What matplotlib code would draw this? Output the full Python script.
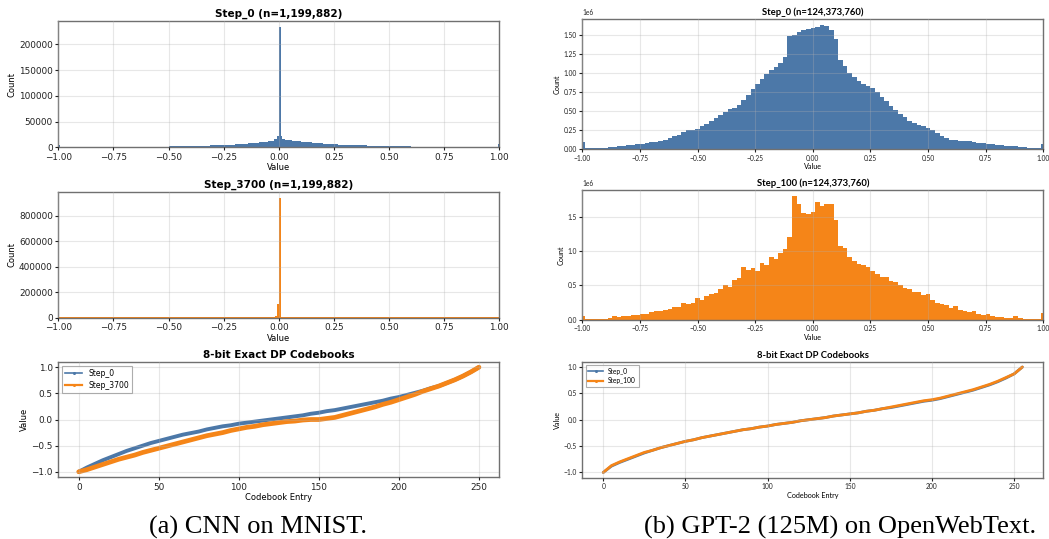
import numpy as np
import matplotlib
matplotlib.use('Agg')
import matplotlib.pyplot as plt
from matplotlib.lines import Line2D
from matplotlib.ticker import MultipleLocator

BLUE = '#4C78A8'
ORANGE = '#F58518'

# ---- (a) CNN on MNIST: histogram bins (edges) and counts ----
cnn_step0_edges = [-1.0, -0.992, -0.5, -0.31, -0.2, -0.14, -0.09, -0.05, -0.024, -0.008,
                   0.0, 0.008, 0.016, 0.03, 0.06, 0.1, 0.15, 0.2, 0.27, 0.4, 0.5, 0.6,
                   0.635, 0.992, 1.0]
cnn_step0_counts = [4500, 0, 2600, 4200, 6000, 8000, 10000, 13000, 17000, 21000,
                    233500, 22000, 16500, 14000, 12000, 10500, 8500, 6500, 4300, 3000,
                    2000, 1200, 0, 6500]

cnn_step3700_edges = [-1.0, -0.07, -0.016, -0.008, 0.0, 0.008, 0.03, 1.0]
cnn_step3700_counts = [1500, 5000, 10000, 105000, 939000, 5000, 1500]

# codebooks (value of every 5th entry)
cnn_entries = list(range(0, 251, 5))
cnn_cb_step0 = [-1.00, -0.92, -0.85, -0.78, -0.72, -0.66, -0.60, -0.55, -0.50, -0.45,
                -0.41, -0.37, -0.33, -0.29, -0.26, -0.23, -0.19, -0.16, -0.13, -0.11,
                -0.08, -0.06, -0.04, -0.02, 0.00, 0.02, 0.04, 0.06, 0.08, 0.11,
                0.13, 0.16, 0.18, 0.21, 0.24, 0.27, 0.30, 0.33, 0.36, 0.40,
                0.43, 0.47, 0.51, 0.55, 0.60, 0.64, 0.70, 0.76, 0.83, 0.91, 1.00]
cnn_cb_step3700 = [-1.00, -0.96, -0.91, -0.86, -0.81, -0.76, -0.72, -0.68, -0.63, -0.59,
                   -0.55, -0.51, -0.47, -0.43, -0.39, -0.35, -0.31, -0.28, -0.25, -0.21,
                   -0.18, -0.15, -0.13, -0.10, -0.08, -0.06, -0.04, -0.03, -0.01, 0.00,
                   0.00, 0.02, 0.04, 0.08, 0.12, 0.16, 0.20, 0.24, 0.29, 0.33,
                   0.38, 0.43, 0.48, 0.54, 0.59, 0.64, 0.70, 0.76, 0.83, 0.91, 1.00]

# ---- (b) GPT-2 on OpenWebText: counts (x1e6), edge bins [-1,-0.99] and [0.99,1] ----
gpt_step0_lo, gpt_step0_hi = 0.09, 0.07
gpt_step0_body = [
    0.010, 0.010, 0.010, 0.010, 0.012, 0.026, 0.028, 0.035, 0.040, 0.048,
    0.053, 0.060, 0.068, 0.078, 0.086, 0.095, 0.105, 0.125, 0.15, 0.17,
    0.19, 0.22, 0.245, 0.25, 0.27, 0.30, 0.33, 0.37, 0.41, 0.45,
    0.49, 0.53, 0.54, 0.58, 0.64, 0.71, 0.79, 0.86, 0.93, 0.99,
    1.04, 1.08, 1.13, 1.21, 1.49, 1.51, 1.54, 1.57, 1.59, 1.60,
    1.61, 1.63, 1.62, 1.57, 1.45, 1.17, 1.10, 1.00, 0.95, 0.90,
    0.86, 0.83, 0.80, 0.75, 0.69, 0.63, 0.57, 0.51, 0.46, 0.42,
    0.37, 0.34, 0.31, 0.30, 0.28, 0.25, 0.21, 0.17, 0.14, 0.125,
    0.115, 0.11, 0.105, 0.10, 0.09, 0.082, 0.075, 0.066, 0.060, 0.053,
    0.050, 0.040, 0.035, 0.033, 0.030, 0.020, 0.018, 0.017, 0.016]
gpt_step100_lo, gpt_step100_hi = 0.05, 0.10
gpt_step100_body = [
    0.01, 0.01, 0.01, 0.01, 0.015, 0.02, 0.05, 0.045, 0.05, 0.048,
    0.065, 0.07, 0.08, 0.085, 0.11, 0.13, 0.12, 0.14, 0.15, 0.19,
    0.18, 0.25, 0.23, 0.24, 0.31, 0.29, 0.35, 0.37, 0.39, 0.45,
    0.50, 0.47, 0.58, 0.61, 0.77, 0.73, 0.75, 0.71, 0.82, 0.80,
    0.91, 0.88, 0.97, 1.03, 1.20, 1.80, 1.68, 1.55, 1.54, 1.57,
    1.71, 1.66, 1.68, 1.69, 1.45, 1.08, 1.04, 0.92, 0.86, 0.81,
    0.80, 0.77, 0.71, 0.66, 0.62, 0.62, 0.56, 0.55, 0.51, 0.46,
    0.45, 0.40, 0.41, 0.36, 0.37, 0.28, 0.24, 0.23, 0.21, 0.17,
    0.20, 0.14, 0.13, 0.11, 0.13, 0.09, 0.075, 0.09, 0.06, 0.04,
    0.035, 0.025, 0.025, 0.05, 0.02, 0.008, 0.005, 0.005, 0.005]

gpt_entries = list(range(0, 256, 5))
gpt_cb_step0 = [-1.00, -0.88, -0.81, -0.75, -0.69, -0.63, -0.58, -0.53, -0.49, -0.45,
                -0.41, -0.38, -0.34, -0.31, -0.28, -0.25, -0.22, -0.19, -0.17, -0.14,
                -0.12, -0.09, -0.07, -0.05, -0.02, 0.00, 0.02, 0.04, 0.07, 0.09,
                0.11, 0.13, 0.16, 0.18, 0.21, 0.23, 0.26, 0.29, 0.32, 0.35,
                0.37, 0.40, 0.44, 0.48, 0.52, 0.56, 0.61, 0.66, 0.72, 0.79, 0.87, 1.00]
gpt_cb_step100 = [-1.00, -0.87, -0.80, -0.74, -0.68, -0.62, -0.58, -0.53, -0.49, -0.45,
                  -0.41, -0.38, -0.34, -0.31, -0.28, -0.25, -0.22, -0.19, -0.17, -0.14,
                  -0.12, -0.09, -0.07, -0.05, -0.02, 0.00, 0.02, 0.04, 0.07, 0.09,
                  0.11, 0.13, 0.16, 0.18, 0.21, 0.24, 0.27, 0.30, 0.33, 0.36,
                  0.38, 0.41, 0.45, 0.49, 0.53, 0.57, 0.62, 0.67, 0.73, 0.80, 0.87, 1.00]


def style(ax, family, tick_size, label_size):
    for s in ax.spines.values():
        s.set_color('#707070')
        s.set_linewidth(1.0)
    ax.tick_params(labelsize=tick_size, length=2.5, width=0.8, pad=1.5, colors='#222222')
    for lab in ax.get_xticklabels() + ax.get_yticklabels():
        lab.set_family(family)
    ax.xaxis.label.set_family(family)
    ax.yaxis.label.set_family(family)
    ax.xaxis.label.set_size(label_size)
    ax.yaxis.label.set_size(label_size)
    ax.yaxis.get_offset_text().set_family(family)
    ax.yaxis.get_offset_text().set_size(tick_size)
    ax.grid(True, color='#b0b0b0', alpha=0.3, lw=0.8)
    ax.set_axisbelow(False)


def hist_panel(ax, edges, counts, color, title, family, fs):
    edges = np.asarray(edges)
    centers = (edges[:-1] + edges[1:]) / 2
    ax.hist(centers, bins=edges, weights=counts, color=color, edgecolor='none')
    ax.set_xlim(-1, 1)
    ax.xaxis.set_major_locator(MultipleLocator(0.25))
    ax.set_xlabel('Value', labelpad=1)
    ax.set_ylabel('Count', labelpad=2)
    ax.set_title(title, fontsize=fs, fontweight='bold', family=family, pad=3)


def codebook_panel(ax, x, y0, y1, labels, lws, family, fs, leg_fs):
    ax.plot(x, y0, '-', color=BLUE, lw=lws[0], solid_capstyle='round')
    ax.plot(x, y1, '-', color=ORANGE, lw=lws[1], solid_capstyle='round')
    ax.set_xlim(-12.75, x[-1] + 12.75)
    ax.xaxis.set_major_locator(MultipleLocator(50))
    ax.yaxis.set_major_locator(MultipleLocator(0.5))
    ax.set_xlabel('Codebook Entry', labelpad=1)
    ax.set_ylabel('Value', labelpad=2)
    ax.set_title('8-bit Exact DP Codebooks', fontsize=fs, fontweight='bold', family=family, pad=3)
    handles = [Line2D([], [], color=BLUE, lw=1.2, marker='o', ms=2.2, mew=0),
               Line2D([], [], color=ORANGE, lw=1.6, marker='o', ms=2.2, mew=0)]
    leg = ax.legend(handles, labels, loc='upper left', prop={'family': family, 'size': leg_fs},
                    fancybox=False, edgecolor='#999999', handlelength=2.2,
                    borderpad=0.4, labelspacing=0.4)
    leg.get_frame().set_linewidth(0.8)


fig = plt.figure(figsize=(10.49, 5.39), dpi=100)

# ---- left column ----
L = 'DejaVu Sans'
axL1 = fig.add_axes([0.0556, 0.7267, 0.4204, 0.2343])
hist_panel(axL1, cnn_step0_edges, cnn_step0_counts, BLUE, 'Step_0 (n=1,199,882)', L, 7.5)
axL1.yaxis.set_major_locator(MultipleLocator(50000))
style(axL1, L, 6.4, 6.0)

axL2 = fig.add_axes([0.0556, 0.4106, 0.4204, 0.2332])
hist_panel(axL2, cnn_step3700_edges, cnn_step3700_counts, ORANGE, 'Step_3700 (n=1,199,882)', L, 7.5)
axL2.yaxis.set_major_locator(MultipleLocator(200000))
style(axL2, L, 6.4, 6.0)

axL3 = fig.add_axes([0.0556, 0.115, 0.4204, 0.2134])
codebook_panel(axL3, cnn_entries, cnn_cb_step0, cnn_cb_step3700, ['Step_0', 'Step_3700'],
               (2.8, 3.4), L, 7.5, 5.5)
style(axL3, L, 6.4, 6.0)

# ---- right column ----
R = 'Lato'
scale = 1e6
edges_r = np.r_[-1.0, np.round(np.arange(-0.99, 1.0, 0.02), 2), 1.0]
axR1 = fig.add_axes([0.5551, 0.7236, 0.4395, 0.2406])
hist_panel(axR1, edges_r, np.r_[gpt_step0_lo, gpt_step0_body, gpt_step0_hi] * scale,
           BLUE, 'Step_0 (n=124,373,760)', R, 6.8)
axR1.yaxis.set_major_locator(MultipleLocator(0.25e6))
style(axR1, R, 4.8, 5.2)

axR2 = fig.add_axes([0.5551, 0.4069, 0.4395, 0.2406])
hist_panel(axR2, edges_r, np.r_[gpt_step100_lo, gpt_step100_body, gpt_step100_hi] * scale,
           ORANGE, 'Step_100 (n=124,373,760)', R, 6.8)
axR2.yaxis.set_major_locator(MultipleLocator(0.5e6))
style(axR2, R, 4.8, 5.2)

axR3 = fig.add_axes([0.5551, 0.1137, 0.4395, 0.2152])
codebook_panel(axR3, gpt_entries, gpt_cb_step0, gpt_cb_step100, ['Step_0', 'Step_100'],
               (2.0, 2.0), R, 6.8, 4.8)
style(axR3, R, 4.8, 5.2)

# captions
fig.text(0.2455, 0.0093, '(a) CNN on MNIST.', family='Liberation Serif', fontsize=19,
         ha='center', va='baseline')
fig.text(0.8008, 0.0093, '(b) GPT-2 (125M) on OpenWebText.', family='Liberation Serif',
         fontsize=19, ha='center', va='baseline')

fig.savefig('out.png', dpi=100)
